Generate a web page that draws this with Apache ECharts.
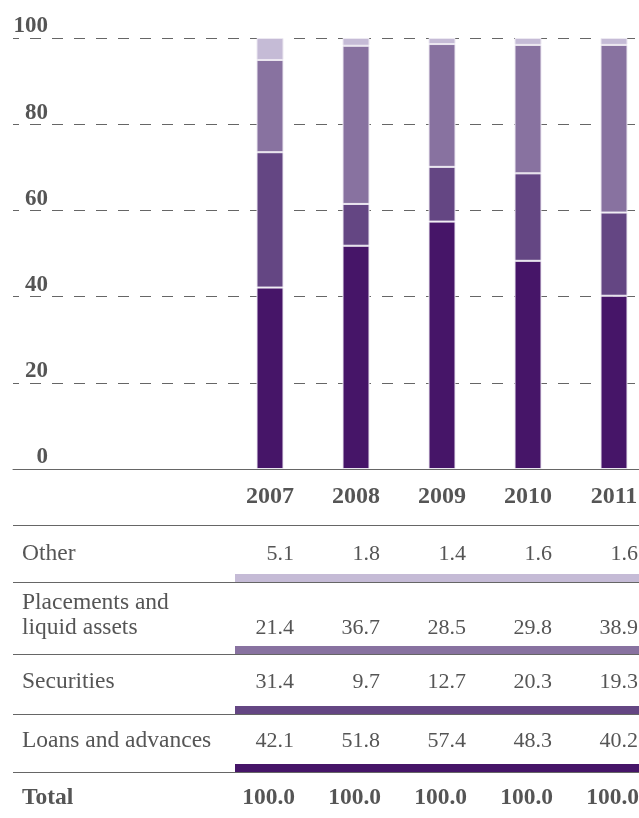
<!DOCTYPE html>
<html>
<head>
<meta charset="utf-8">
<script src="https://cdn.jsdelivr.net/npm/echarts@6/dist/echarts.min.js"></script>
<style>
  html, body { margin: 0; padding: 0; background: #fff; }
  #chart { width: 639px; height: 818px; }
</style>
</head>
<body>
<div id="chart"></div>
<script>
// Composition of assets, per cent of total
const years = ['2007', '2008', '2009', '2010', '2011'];
const loans = [42.1, 51.8, 57.4, 48.3, 40.2];
const securities = [31.4, 9.7, 12.7, 20.3, 19.3];
const placements = [21.4, 36.7, 28.5, 29.8, 38.9];
const other = [5.1, 1.8, 1.4, 1.6, 1.6];
const totals = [100.0, 100.0, 100.0, 100.0, 100.0];
const yTicks = [0, 20, 40, 60, 80, 100];

const FONT = '"Liberation Serif", "Times New Roman", serif';
const TEXT = '#555';
const RULE = '#666';
const COLORS = {
  loans: '#461568',
  securities: '#644683',
  placements: '#8872a0',
  other: '#c5bbd6'
};

const chart = echarts.init(document.getElementById('chart'), null, { renderer: 'canvas' });

const PLOT_TOP = 38;
const PLOT_HEIGHT = 431;

function barSeries(name, data, color) {
  return {
    name: name,
    type: 'bar',
    stack: 'share',
    xAxisIndex: 1,
    yAxisIndex: 1,
    barWidth: 27,
    data: data,
    itemStyle: { color: color, borderColor: '#ece8f1', borderWidth: 1 },
    emphasis: { disabled: true }
  };
}

chart.setOption({
  animation: false,
  grid: [
    // full-width grid carrying the dashed guide lines and the baseline
    { left: 13, right: 0, top: PLOT_TOP, height: PLOT_HEIGHT, containLabel: false, outerBoundsMode: 'none' },
    // grid holding the five year columns (its last band runs past the right edge)
    { left: 227, width: 430, top: PLOT_TOP, height: PLOT_HEIGHT, containLabel: false, outerBoundsMode: 'none' }
  ],
  xAxis: [
    {
      gridIndex: 0, type: 'value', min: 0, max: 1,
      axisLine: { show: true, lineStyle: { color: RULE, width: 1 } },
      axisTick: { show: false }, axisLabel: { show: false }, splitLine: { show: false }
    },
    {
      gridIndex: 1, type: 'category', data: years,
      axisLine: { show: false }, axisTick: { show: false }, splitLine: { show: false },
      axisLabel: {
        margin: 28, verticalAlign: 'middle',
        color: TEXT, fontFamily: FONT, fontWeight: 'bold', fontSize: 24
      }
    }
  ],
  yAxis: [
    {
      gridIndex: 0, type: 'value', min: yTicks[0], max: yTicks[yTicks.length - 1], interval: 20,
      axisLine: { show: false }, axisTick: { show: false },
      axisLabel: {
        inside: true, margin: 35, align: 'right', verticalAlign: 'bottom',
        color: TEXT, fontFamily: FONT, fontWeight: 'bold', fontSize: 23,
        formatter: v => (yTicks.indexOf(v) >= 0 ? String(v) : '')
      },
      splitLine: {
        show: true, showMinLine: false,
        lineStyle: { color: RULE, width: 1, type: [11, 11], dashOffset: 5 }
      }
    },
    {
      gridIndex: 1, type: 'value', min: 0, max: 100, show: false
    }
  ],
  series: [
    barSeries('Loans and advances', loans, COLORS.loans),
    barSeries('Securities', securities, COLORS.securities),
    barSeries('Placements and liquid assets', placements, COLORS.placements),
    barSeries('Other', other, COLORS.other)
  ]
});

// Data table beneath the columns, aligned to the year positions
const tableRows = [
  { label: 'Other', values: other, color: COLORS.other, valueY: 554, labelY: 554, ruleY: 582.5 },
  { label: 'Placements and\nliquid assets', values: placements, color: COLORS.placements, valueY: 628.5, labelY: 615, ruleY: 654.5 },
  { label: 'Securities', values: securities, color: COLORS.securities, valueY: 682, labelY: 682, ruleY: 714.5 },
  { label: 'Loans and advances', values: loans, color: COLORS.loans, valueY: 741, labelY: 741, ruleY: 772.5 }
];

const colX = years.map(y => chart.convertToPixel({ xAxisIndex: 1 }, y));
const graphics = [];

function rule(y) {
  graphics.push({
    type: 'line', silent: true,
    shape: { x1: 13, y1: y, x2: 639, y2: y },
    style: { stroke: RULE, lineWidth: 1 }
  });
}

function text(str, x, y, align, bold, size, lineHeight) {
  graphics.push({
    type: 'text', silent: true, x: x, y: y,
    style: {
      text: str, fill: TEXT, align: align, verticalAlign: 'middle',
      font: (bold ? 'bold ' : '') + size + 'px ' + FONT,
      lineHeight: lineHeight || size
    }
  });
}

rule(525.5);
tableRows.forEach(row => {
  text(row.label, 22, row.labelY, 'left', false, 23.5, 25);
  row.values.forEach((v, i) => text(v.toFixed(1), colX[i] + 24, row.valueY, 'right', false, 22));
  graphics.push({
    type: 'rect', silent: true,
    shape: { x: 235, y: row.ruleY - 0.5 - 8, width: 404, height: 8 },
    style: { fill: row.color }
  });
  rule(row.ruleY);
});
text('Total', 22, 798, 'left', true, 23.5);
totals.forEach((v, i) => text(v.toFixed(1), colX[i] + 25, 798, 'right', true, 23.5));

chart.setOption({ graphic: { elements: graphics } });
</script>
</body>
</html>
